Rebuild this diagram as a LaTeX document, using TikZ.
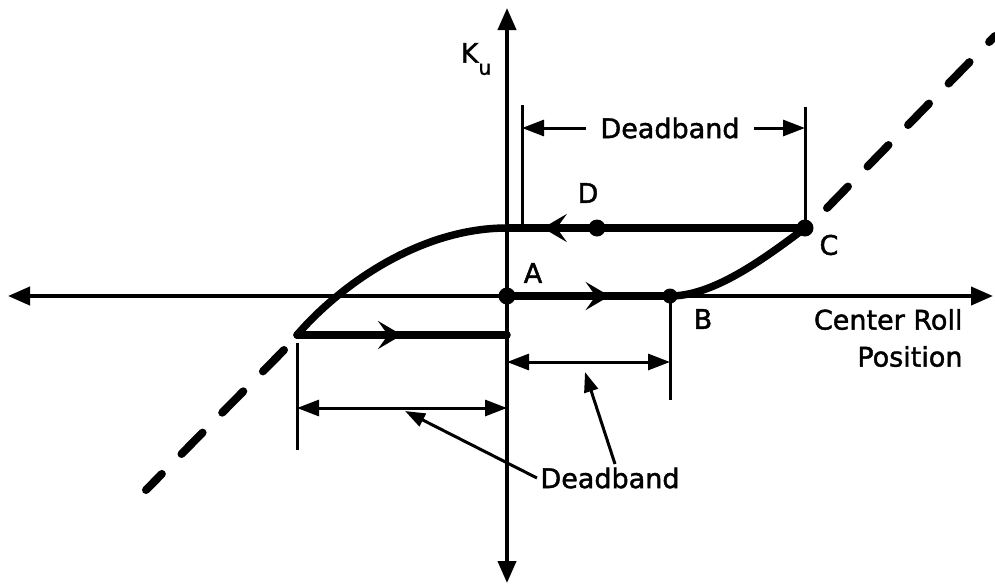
\documentclass[tikz,border=0pt]{standalone}
\usepackage{fontspec}
\setmainfont{DejaVu Sans}[BoldFont={DejaVu Sans}, BoldFeatures={FakeBold=1.6}]
\usetikzlibrary{arrows.meta,decorations.markings}

\begin{document}
\begin{tikzpicture}[x=1pt, y=-1pt, every node/.style={font=\fontsize{27}{34}\selectfont\bfseries},
    axis/.style={line width=4pt, {Triangle[length=22pt,width=18pt]}-{Triangle[length=22pt,width=18pt]}},
    hyst/.style={line width=7.5pt, line cap=round, line join=round},
    tick/.style={line width=3pt},
    dim/.style={line width=3pt, -{Triangle[length=22pt,width=16pt]}},
    dimboth/.style={line width=3pt, {Triangle[length=22pt,width=16pt]}-{Triangle[length=22pt,width=16pt]}},
    pointer/.style={line width=3pt, -{Triangle[length=20pt,width=14pt]}},
    asym/.style={line width=8pt, line cap=round, dash pattern=on 30pt off 28pt},
    dot/.style={circle, fill, inner sep=0pt, minimum size=#1},
    midarrow/.style={postaction={decorate}, decoration={markings, mark=at position #1 with {\arrow{Stealth[length=24pt,width=28pt,inset=10pt]}}}}]
    \useasboundingbox (0,0) rectangle (995,584);
    % axes
    \coordinate (xl) at (8,296);
    \coordinate (xr) at (993,296);
    \coordinate (yt) at (507,8);
    \coordinate (yb) at (507,583);
    \draw[axis] (xl) -- (xr);
    \draw[axis] (yb) -- (yt);
    \node (ku) at (476,59) {K\raisebox{-12pt}{\fontsize{20}{20}\selectfont u}};
    \node[align=right, anchor=east, font=\fontsize{27}{37}\selectfont\bfseries] (pos) at (966,338) {Center Roll\\Position};
    % limit lines
    \coordinate (up1) at (827,208);
    \coordinate (up2) at (995,36);
    \coordinate (lo1) at (284,350);
    \coordinate (lo2) at (146,490);
    \draw[asym] (up1) -- (up2);
    \draw[asym] (lo1) -- (lo2);
    % hysteresis loop
    \node[dot=17pt] (A) at (507,296) {};
    \node[dot=15pt] (B) at (670,296) {};
    \node[dot=17pt] (C) at (805,228) {};
    \node[dot=17pt] (D) at (597,228) {};
    \coordinate (top) at (507,228);
    \coordinate (corner) at (297,335);
    \coordinate (bot) at (507,335);
    \draw[hyst, midarrow=0.63] (A.center) -- (B.center);
    \draw[hyst] (B.center) .. controls (712,296) and (760,262) .. (C.center);
    \draw[hyst, midarrow=0.88] (C.center) -- (top);
    \draw[hyst] (top) .. controls (420,228) and (340,285) .. (corner);
    \draw[hyst, midarrow=0.5] (corner) -- (bot);
    \node (la) at (533,273) {A};
    \node (lb) at (703,319) {B};
    \node (lc) at (829,245) {C};
    \node (ld) at (588,193) {D};
    % deadbands
    \coordinate (t1) at (522,105);
    \coordinate (t1b) at (522,228);
    \coordinate (t2) at (805,107);
    \coordinate (t3) at (670,400);
    \coordinate (t4) at (297,343);
    \coordinate (t4b) at (297,450);
    \draw[tick] (t1) -- (t1b);
    \draw[tick] (t2) -- (C.center);
    \draw[tick] (B.center) -- (t3);
    \draw[tick] (t4) -- (t4b);
    \node[inner xsep=14pt] (dbtop) at (670,128) {Deadband};
    \coordinate (dl) at (522,128);
    \coordinate (dr) at (805,128);
    \draw[dim] (dbtop) -- (dl);
    \draw[dim] (dbtop) -- (dr);
    \coordinate (r1) at (507,362);
    \coordinate (r2) at (670,362);
    \draw[dimboth] (r1) -- (r2);
    \coordinate (l1) at (297,408);
    \coordinate (l2) at (507,408);
    \draw[dimboth] (l1) -- (l2);
    \node (db) at (610,478) {Deadband};
    \coordinate (p1) at (405,411);
    \coordinate (p2) at (585,372);
    \draw[pointer] (db.west) -- (p1);
    \draw[pointer] ([xshift=5pt]db.north) -- (p2);
\end{tikzpicture}
\end{document}
